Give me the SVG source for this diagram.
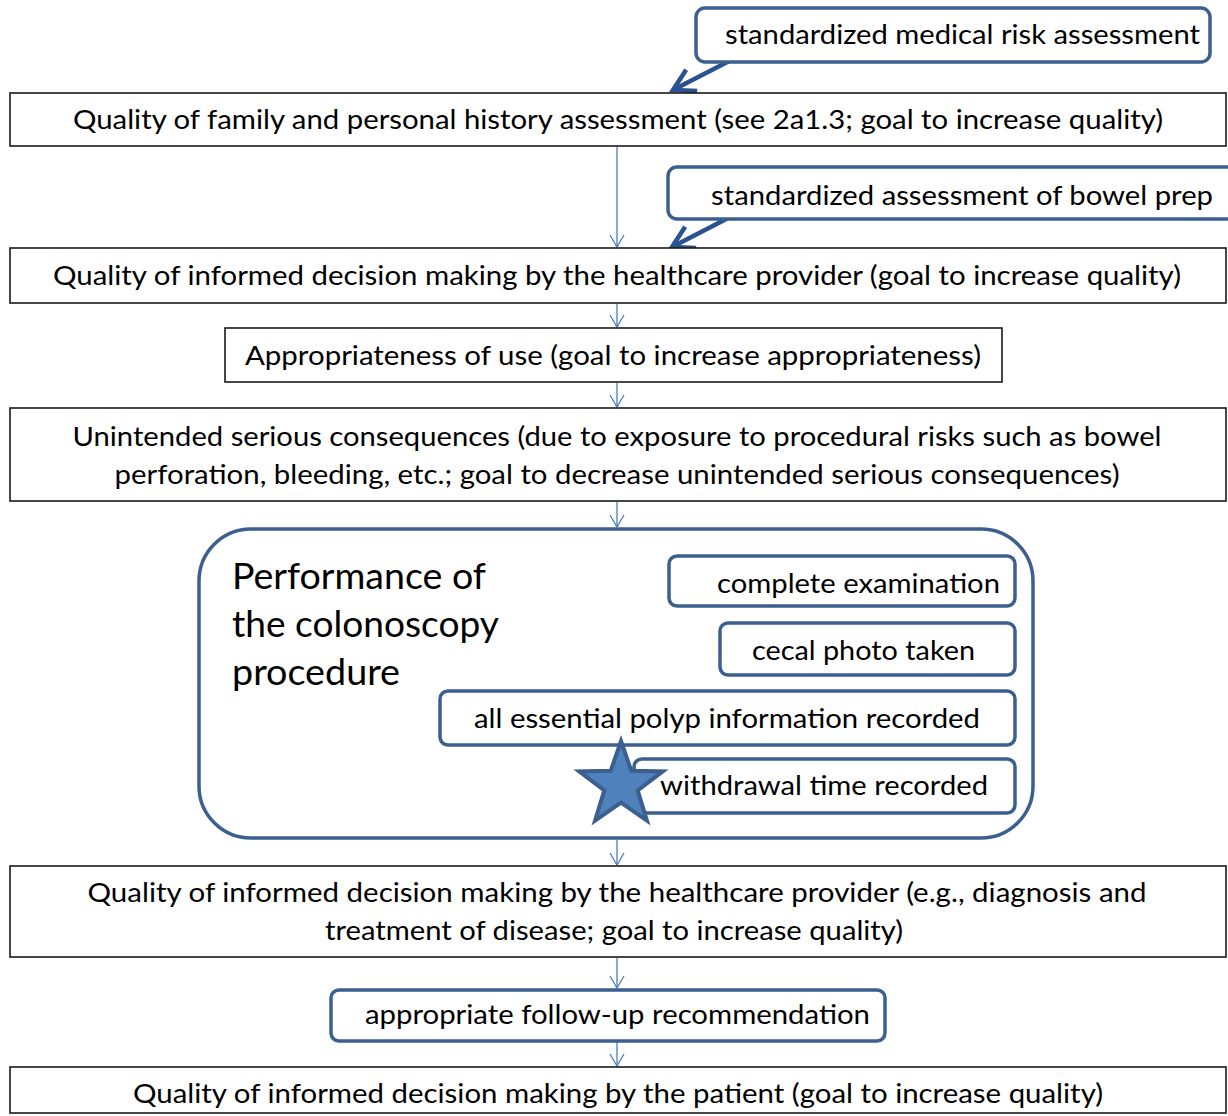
<svg xmlns="http://www.w3.org/2000/svg" width="1228" height="1116" viewBox="0 0 1228 1116">
  <style>
    .box { fill: #ffffff; stroke: #1a1a1a; stroke-width: 1.6; }
    .tag { fill: #ffffff; stroke: #3B5F8E; stroke-width: 3.5; }
    .lbl { font-family: Lato, "Open Sans", "Liberation Sans", sans-serif; font-size: 26.5px; fill: #000000; }
    .mid { text-anchor: middle; }
    .title { font-family: Lato, "Open Sans", "Liberation Sans", sans-serif; font-size: 36px; fill: #000000; }
    .flow { stroke: #4A7EBB; stroke-width: 1.3; fill: none; }
    .feed { stroke: #2A5190; stroke-width: 4.5; fill: none; }
  </style>
  <defs>
    <marker id="thin" markerUnits="userSpaceOnUse" viewBox="-14 -9 16 18" refX="0" refY="0" markerWidth="16" markerHeight="18" orient="auto">
      <path d="M-12,-7 L0,0 L-12,7" fill="none" stroke="#4A7EBB" stroke-width="1.3"/>
    </marker>
    <marker id="thick" markerUnits="userSpaceOnUse" viewBox="-26 -15 30 30" refX="0" refY="0" markerWidth="30" markerHeight="30" orient="auto">
      <path d="M-21,-12 L0,0 L-21,12" fill="none" stroke="#2A5190" stroke-width="4.5"/>
    </marker>
  </defs>

  <!-- connectors -->
  <g id="connectors">
    <line class="flow" x1="617" y1="147" x2="617" y2="247" marker-end="url(#thin)"/>
    <line class="flow" x1="617" y1="304" x2="617" y2="327" marker-end="url(#thin)"/>
    <line class="flow" x1="617" y1="383" x2="617" y2="407" marker-end="url(#thin)"/>
    <line class="flow" x1="617" y1="502" x2="617" y2="527" marker-end="url(#thin)"/>
    <line class="flow" x1="617" y1="840" x2="617" y2="865" marker-end="url(#thin)"/>
    <line class="flow" x1="617" y1="958" x2="617" y2="988" marker-end="url(#thin)"/>
    <line class="flow" x1="617" y1="1042" x2="617" y2="1066" marker-end="url(#thin)"/>
    <line class="feed" x1="739" y1="56" x2="673" y2="90" marker-end="url(#thick)"/>
    <line class="feed" x1="736" y1="214" x2="672" y2="247" marker-end="url(#thick)"/>
  </g>

  <g id="risk-assessment">
    <rect class="tag" x="696" y="8" width="514" height="54" rx="9"/>
    <text class="lbl" x="725" y="44" textLength="475" lengthAdjust="spacingAndGlyphs">standardized medical risk assessment</text>
  </g>

  <g id="history-quality">
    <rect class="box" x="10" y="93" width="1216" height="53"/>
    <text class="lbl mid" x="618" y="129" textLength="1090" lengthAdjust="spacingAndGlyphs">Quality of family and personal history assessment (see 2a1.3; goal to increase quality)</text>
  </g>

  <g id="bowel-prep">
    <rect class="tag" x="668" y="167" width="600" height="52" rx="9"/>
    <text class="lbl" x="711" y="205" textLength="502" lengthAdjust="spacingAndGlyphs">standardized assessment of bowel prep</text>
  </g>

  <g id="provider-decision">
    <rect class="box" x="10" y="248" width="1216" height="55"/>
    <text class="lbl mid" x="617" y="285" textLength="1128" lengthAdjust="spacingAndGlyphs">Quality of informed decision making by the healthcare provider (goal to increase quality)</text>
  </g>

  <g id="appropriateness">
    <rect class="box" x="225" y="328" width="777" height="54"/>
    <text class="lbl mid" x="613" y="365" textLength="736" lengthAdjust="spacingAndGlyphs">Appropriateness of use (goal to increase appropriateness)</text>
  </g>

  <g id="consequences">
    <rect class="box" x="10" y="408" width="1216" height="93"/>
    <text class="lbl mid" x="617" y="446" textLength="1089" lengthAdjust="spacingAndGlyphs">Unintended serious consequences (due to exposure to procedural risks such as bowel</text>
    <text class="lbl mid" x="617" y="484" textLength="1005" lengthAdjust="spacingAndGlyphs">perforation, bleeding, etc.; goal to decrease unintended serious consequences)</text>
  </g>

  <g id="procedure">
    <rect class="tag" x="199" y="529" width="834" height="309" rx="52"/>
    <text class="title" x="232" y="589" textLength="254" lengthAdjust="spacingAndGlyphs">Performance of</text>
    <text class="title" x="232" y="637" textLength="267" lengthAdjust="spacingAndGlyphs">the colonoscopy</text>
    <text class="title" x="232" y="685" textLength="168" lengthAdjust="spacingAndGlyphs">procedure</text>
  </g>

  <g id="complete-exam">
    <rect class="tag" x="669" y="556" width="346" height="50" rx="8"/>
    <text class="lbl" x="717" y="593" textLength="283" lengthAdjust="spacingAndGlyphs">complete examination</text>
  </g>

  <g id="cecal-photo">
    <rect class="tag" x="720" y="623" width="295" height="52" rx="8"/>
    <text class="lbl" x="752" y="660" textLength="223" lengthAdjust="spacingAndGlyphs">cecal photo taken</text>
  </g>

  <g id="polyp-info">
    <rect class="tag" x="440" y="691" width="575" height="54" rx="8"/>
    <text class="lbl" x="474" y="728" textLength="506" lengthAdjust="spacingAndGlyphs">all essential polyp information recorded</text>
  </g>

  <g id="withdrawal-time">
    <rect class="tag" x="634" y="759" width="381" height="54" rx="8"/>
    <text class="lbl" x="660" y="795" textLength="328" lengthAdjust="spacingAndGlyphs">withdrawal time recorded</text>
  </g>

  <g id="star">
    <polygon points="621,741 631.3,770.8 662.8,771.4 637.7,790.4 646.9,820.6 621,802.6 595.1,820.6 604.3,790.4 579.2,771.4 610.7,770.8" fill="#4F81BD" stroke="#3B5F8E" stroke-width="4" stroke-linejoin="miter"/>
  </g>

  <g id="diagnosis-decision">
    <rect class="box" x="10" y="866" width="1216" height="91"/>
    <text class="lbl mid" x="617" y="902" textLength="1059" lengthAdjust="spacingAndGlyphs">Quality of informed decision making by the healthcare provider (e.g., diagnosis and</text>
    <text class="lbl mid" x="614" y="940" textLength="578" lengthAdjust="spacingAndGlyphs">treatment of disease; goal to increase quality)</text>
  </g>

  <g id="follow-up">
    <rect class="tag" x="331" y="990" width="554" height="51" rx="8"/>
    <text class="lbl" x="365" y="1024" textLength="505" lengthAdjust="spacingAndGlyphs">appropriate follow-up recommendation</text>
  </g>

  <g id="patient-decision">
    <rect class="box" x="10" y="1067" width="1216" height="46"/>
    <text class="lbl mid" x="618" y="1103" textLength="970" lengthAdjust="spacingAndGlyphs">Quality of informed decision making by the patient (goal to increase quality)</text>
  </g>
</svg>
